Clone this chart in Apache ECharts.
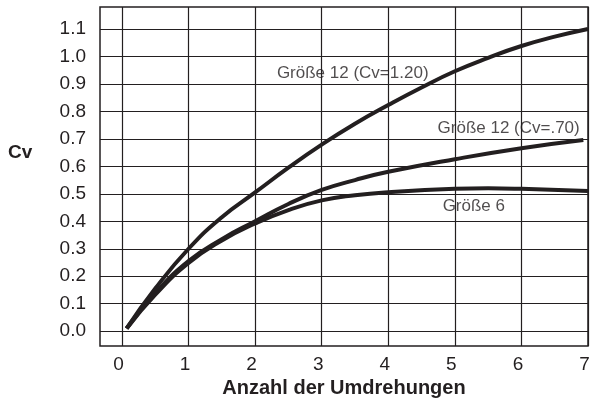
<!DOCTYPE html>
<html>
<head>
<meta charset="utf-8">
<script src="https://cdn.jsdelivr.net/npm/echarts@6/dist/echarts.min.js"></script>
<style>
html,body{margin:0;padding:0;background:#fff;}
#chart{width:590px;height:400px;}
</style>
</head>
<body>
<div id="chart"></div>
<script>
// ---- data ----
var xTickValues = [0, 1, 2, 3, 4, 5, 6, 7];
var yTickValues = [0, 0.1, 0.2, 0.3, 0.4, 0.5, 0.6, 0.7, 0.8, 0.9, 1.0, 1.1];

var groesse12Cv120 = [[0.07,0.01],[0.5,0.155],[1,0.300],[1.5,0.415],[2,0.505],[2.5,0.595],[3,0.679],[3.5,0.755],[4,0.823],[4.5,0.887],[5,0.946],[5.5,0.995],[6,1.038],[6.5,1.072],[7,1.10]];
var groesse12Cv070 = [[0.07,0.01],[0.5,0.138],[1,0.255],[1.5,0.335],[2,0.400],[2.5,0.463],[3,0.514],[3.5,0.550],[4,0.580],[5,0.626],[6,0.666],[6.93,0.696]];
var groesse6 = [[0.07,0.01],[0.5,0.133],[1,0.248],[1.5,0.330],[2,0.392],[2.5,0.441],[3,0.476],[3.5,0.495],[4,0.506],[5,0.518],[5.5,0.520],[6,0.518],[7,0.510]];

var curveLabels = ['Größe 12 (Cv=1.20)', 'Größe 12 (Cv=.70)', 'Größe 6'];
var curveLabelPos = [[3.466, 0.94], [5.808, 0.739], [5.285, 0.453]];

var xAxisTitle = 'Anzahl der Umdrehungen';
var yAxisTitle = 'Cv';

// ---- chart ----
var ink = '#231f20';
var chart = echarts.init(document.getElementById('chart'), null, {renderer: 'canvas'});

var gridMarks = [];
xTickValues.forEach(function (v) { gridMarks.push({xAxis: v}); });
yTickValues.forEach(function (v) { gridMarks.push({yAxis: v}); });

function curve(data) {
  return {
    type: 'line', data: data, smooth: 0.5, showSymbol: false, symbol: 'none',
    lineStyle: {color: ink, width: 4}, z: 5, silent: true
  };
}

chart.setOption({
  animation: false,
  backgroundColor: '#fff',
  grid: {left: 100, right: 2, top: 7, bottom: 54, show: true, borderColor: ink, borderWidth: 1.5,
    backgroundColor: 'transparent', containLabel: false, outerBoundsMode: 'none'},
  xAxis: {
    type: 'value', min: -0.33, max: 7,
    axisLine: {show: false}, axisTick: {show: false}, splitLine: {show: false},
    axisLabel: {customValues: xTickValues, color: ink, fontSize: 19, fontFamily: 'Liberation Sans', margin: 9,
      padding: [0, 7, 0, 0]},
    name: xAxisTitle, nameLocation: 'middle', nameGap: 32,
    nameTextStyle: {color: ink, fontSize: 20, fontWeight: 'bold', fontFamily: 'Liberation Sans'}
  },
  yAxis: {
    type: 'value', min: -0.054, max: 1.18,
    axisLine: {show: false}, axisTick: {show: false}, splitLine: {show: false},
    axisLabel: {customValues: yTickValues, color: ink, fontSize: 19, fontFamily: 'Liberation Sans', margin: 14,
      formatter: function (v) { return v.toFixed(1); }}
  },
  graphic: [{
    type: 'text', left: 8, top: 143,
    style: {text: yAxisTitle, fill: ink, font: 'bold 19px "Liberation Sans"'}
  }],
  series: [
    {
      type: 'line', data: [], silent: true,
      markLine: {silent: true, symbol: 'none', label: {show: false},
        lineStyle: {color: ink, width: 1.2, type: 'solid'}, data: gridMarks, animation: false}
    },
    curve(groesse12Cv120),
    curve(groesse12Cv070),
    curve(groesse6),
    {
      type: 'scatter', symbolSize: 0, silent: true, z: 6,
      data: curveLabelPos.map(function (p, i) { return {value: p, name: curveLabels[i]}; }),
      label: {show: true, position: 'inside', formatter: '{b}', color: ink, fontSize: 17, fontFamily: 'Liberation Sans'}
    }
  ]
});
</script>
</body>
</html>
